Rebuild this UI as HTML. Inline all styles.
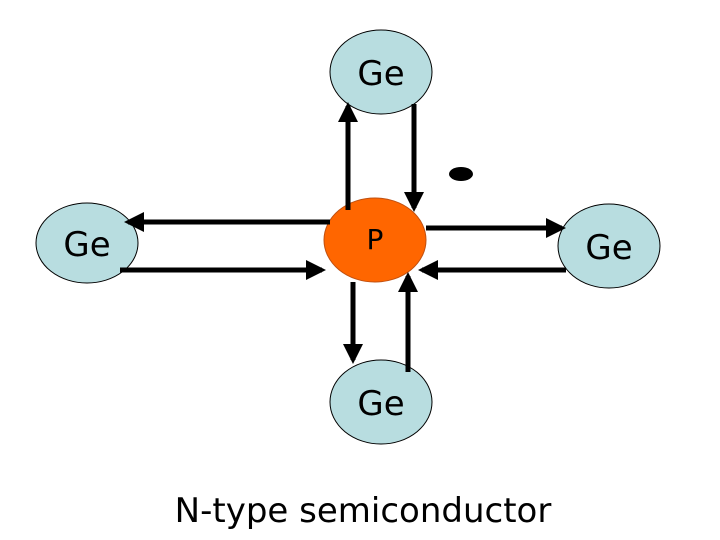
<!DOCTYPE html>
<html><head><meta charset="utf-8"><style>
html,body{margin:0;padding:0;background:#fff;}
svg{display:block;}
text{font-family:"DejaVu Sans","Liberation Sans",sans-serif;}
</style></head><body>
<svg width="720" height="540" viewBox="0 0 720 540" xmlns="http://www.w3.org/2000/svg">
<defs>
<marker id="a" markerWidth="4" markerHeight="4" refX="3.2" refY="2" orient="auto" markerUnits="strokeWidth">
<path d="M0,0 L4,2 L0,4 Z" fill="#000"/>
</marker>
</defs>
<g stroke="#000" stroke-width="1">
<ellipse cx="381" cy="72" rx="51" ry="42" fill="#b8dde0"/>
<ellipse cx="87" cy="243" rx="51" ry="40" fill="#b8dde0"/>
<ellipse cx="609" cy="246" rx="51" ry="42" fill="#b8dde0"/>
<ellipse cx="381" cy="402" rx="51" ry="42" fill="#b8dde0"/>
<ellipse cx="375" cy="240" rx="51" ry="42" fill="#ff6600" stroke="#c05010"/>
</g>
<g stroke="#000" stroke-width="5" fill="none" marker-end="url(#a)">
<line x1="348" y1="210" x2="348" y2="106"/>
<line x1="414" y1="104" x2="414" y2="208"/>
<line x1="330" y1="222" x2="128" y2="222"/>
<line x1="120" y1="270" x2="322" y2="270"/>
<line x1="426" y1="228" x2="562" y2="228"/>
<line x1="566" y1="270" x2="422" y2="270"/>
<line x1="353" y1="282" x2="353" y2="360"/>
<line x1="408" y1="372" x2="408" y2="276"/>
</g>
<ellipse cx="461" cy="174" rx="12" ry="7" fill="#000"/>
<g font-size="34" text-anchor="middle" fill="#000">
<text x="381" y="85">Ge</text>
<text x="87" y="256">Ge</text>
<text x="609" y="259">Ge</text>
<text x="381" y="415">Ge</text>
<text x="375" y="249" font-size="28">P</text>
<text x="363" y="522" font-size="34">N-type semiconductor</text>
</g>
</svg>
</body></html>
